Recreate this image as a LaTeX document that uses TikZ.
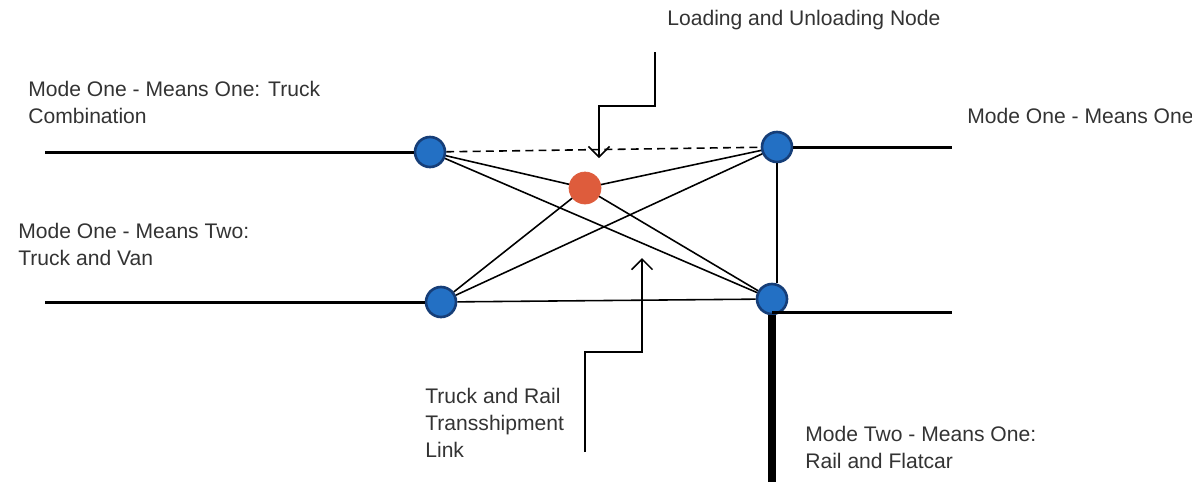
\documentclass[tikz,border=0pt]{standalone}
\usepackage{fontspec}
\setmainfont{Liberation Sans}
\usetikzlibrary{arrows.meta}
\definecolor{nodeblue}{RGB}{35,112,196}
\definecolor{nodeborder}{RGB}{22,62,120}
\definecolor{nodered}{RGB}{222,92,60}

\begin{document}
\begin{tikzpicture}[
    x=0.02cm, y=-0.02cm,
    terminal/.style={circle, draw=nodeborder, line width=1.5pt, fill=nodeblue,
                     inner sep=0pt, minimum size=0.6cm},
    transfer/.style={circle, draw=nodered, fill=nodered,
                     inner sep=0pt, minimum size=0.64cm},
    caption/.style={font=\fontsize{12}{15.2}\selectfont, align=left,
                    anchor=north west, inner sep=0pt, text=black!80},
    mode/.style={line width=1.7pt},
    link/.style={line width=0.9pt},
    pointer/.style={line width=0.9pt, -{Straight Barb[length=6pt,width=12pt]}}
]
\useasboundingbox (0,0) rectangle (1192,485);
\node[terminal] (tl) at (430,152) {};
\node[terminal] (tr) at (777,147) {};
\node[terminal] (bl) at (441,302) {};
\node[terminal] (br) at (772,299) {};
\node[transfer] (hub) at (585,188) {};
\coordinate (tlend) at (45,152);
\coordinate (trend) at (952,147);
\coordinate (blend) at (45,302);
\coordinate (brend) at (952,312);
\coordinate (railend) at (775,482);
\draw[mode] (tlend) -- (tl);
\draw[mode] (tr) -- (trend);
\draw[mode] (blend) -- (bl);
\draw[mode] (br.south |- brend) -- (brend);
\draw[line width=1.4pt] (tr.south) -- (tr.south |- br.north);
\draw[line width=4.5pt] (br.south) -- (br.south |- railend);
\draw[link, dash pattern=on 4.5pt off 3pt] (tl) -- (tr);
\draw[link] (tl) -- (hub);
\draw[link] (hub) -- (tr);
\draw[link] (tl) -- (br);
\draw[link] (bl) -- (hub);
\draw[link] (bl) -- (tr);
\draw[link] (hub) -- (br);
\draw[link] (bl) -- (br);
\coordinate (lstart) at (655,52);
\coordinate (ltip) at (599,158);
\draw[pointer] (lstart) -- ++(0,54) -| (ltip);
\coordinate (tstart) at (585,452);
\coordinate (ttip) at (642,258);
\draw[pointer] (tstart) -- ++(0,-100) -| (ttip);
\node[caption] (loading) at (667,10) {Loading and Unloading Node};
\node[caption] (truckcomb) at (28,81) {Mode One - Means One: Truck\\Combination};
\node[caption] (meansone) at (967,108) {Mode One - Means One};
\node[caption] (truckvan) at (18,223) {Mode One - Means Two:\\Truck and Van};
\node[caption] (translink) at (425,388) {Truck and Rail\\Transshipment\\Link};
\node[caption] (railcar) at (805,426) {Mode Two - Means One:\\Rail and Flatcar};
\end{tikzpicture}
\end{document}
